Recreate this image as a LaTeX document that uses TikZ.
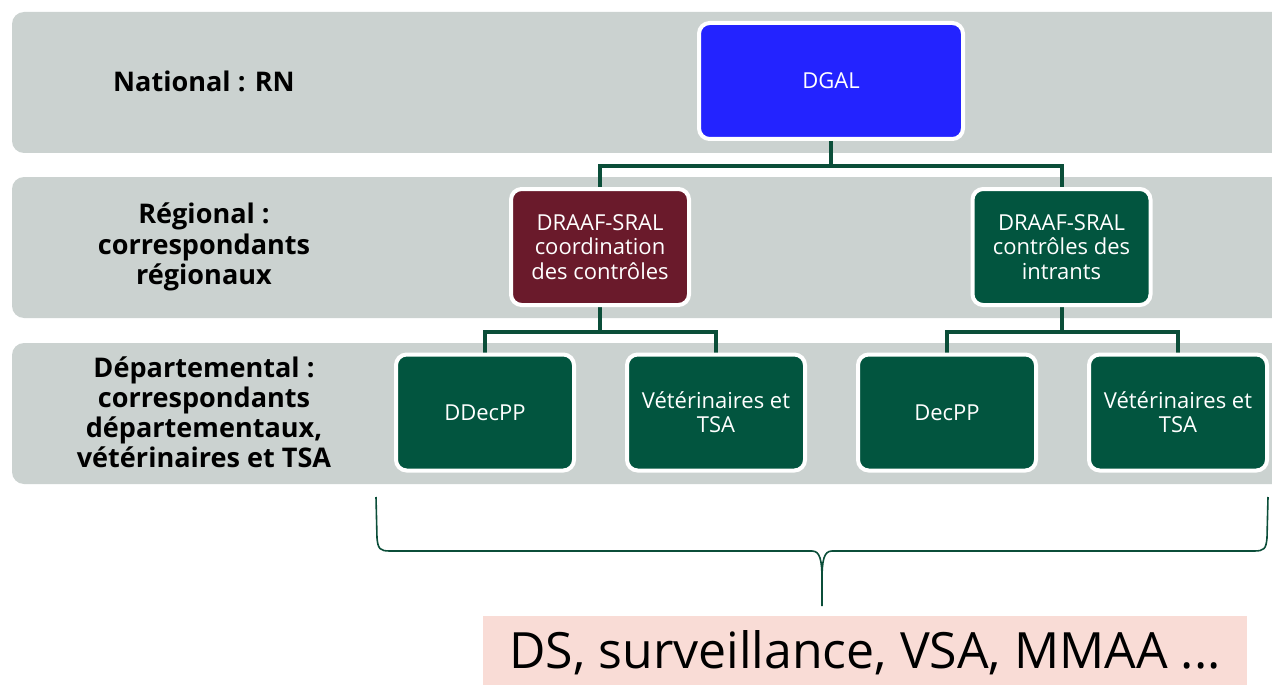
\documentclass[tikz,border=0pt]{standalone}
\usepackage{fontspec}
\setmainfont{Open Sans}
\usetikzlibrary{backgrounds}
\definecolor{band}{HTML}{CBD2D0}
\definecolor{dgalblue}{HTML}{2323FF}
\definecolor{maroon}{HTML}{6A1A2B}
\definecolor{dgreen}{HTML}{02553F}
\definecolor{conn}{HTML}{0B4E39}
\definecolor{pink}{HTML}{F9DCD6}
\tikzset{
  bandbox/.style={fill=band, rounded corners=9pt},
  orgbox/.style={draw=white, line width=3pt, rounded corners=8pt, text=white, align=center,
    font=\fontsize{16.5}{18.2}\selectfont, inner sep=0pt, minimum width=133.5pt, minimum height=87pt},
  lvl/.style={font=\fontsize{20.3}{22.6}\selectfont\bfseries, align=center, text=black},
  connline/.style={draw=conn, line width=3pt},
  braceline/.style={draw=conn, line width=1.2pt},
}
\begin{document}
\begin{tikzpicture}[x=0.75pt,y=-0.75pt]
\useasboundingbox (0,0) rectangle (1272,685);
% nodes
\node[orgbox, fill=dgalblue, minimum width=198pt] (dgal) at (831,81) {DGAL};
\node[orgbox, fill=maroon] (coord) at (600,247) {DRAAF-SRAL\\coordination\\des contrôles};
\node[orgbox, fill=dgreen] (intr) at (1061.5,247) {DRAAF-SRAL\\contrôles des\\intrants};
\node[orgbox, fill=dgreen] (ddec) at (485,412.5) {DDecPP};
\node[orgbox, fill=dgreen] (vet1) at (716,412.5) {Vétérinaires et\\TSA};
\node[orgbox, fill=dgreen] (dec) at (947,412.5) {DecPP};
\node[orgbox, fill=dgreen] (vet2) at (1178,412.5) {Vétérinaires et\\TSA};
% level labels
\node[lvl] (lnat) at (204,81) {National : RN};
\node[lvl] (lreg) at (204,247) {Régional :\\correspondants\\régionaux};
\node[lvl] (ldep) at (204,412) {Départemental :\\correspondants\\départementaux,\\vétérinaires et TSA};
% bottom box
\node[fill=pink, minimum width=573pt, minimum height=56pt, inner sep=0pt,
  font=\fontsize{37.5}{40}\selectfont] (ds) at (865,653) {DS, surveillance, VSA, MMAA ...};
\begin{scope}[on background layer]
  \fill[bandbox] (12,12) rectangle (1290,153);
  \fill[bandbox] (12,177) rectangle (1290,318);
  \fill[bandbox] (12,343) rectangle (1290,484);
  \coordinate (j1) at (831,166);
  \coordinate (j2) at (600,332);
  \coordinate (j3) at (1061.5,332);
  \draw[connline] (dgal.south) -- (j1);
  \draw[connline] (j1) -| (coord.north);
  \draw[connline] (j1) -| (intr.north);
  \draw[connline] (coord.south) -- (j2);
  \draw[connline] (j2) -| (ddec.north);
  \draw[connline] (j2) -| (vet1.north);
  \draw[connline] (intr.south) -- (j3);
  \draw[connline] (j3) -| (dec.north);
  \draw[connline] (j3) -| (vet2.north);
\end{scope}
% brace
\coordinate (bl) at (376,497);
\coordinate (br) at (1268,497);
\coordinate (bt) at (822,606);
\draw[braceline] (bl) -- (377,538) .. controls (378,549) and (380,551) .. (390,551)
  -- (812,551) .. controls (820,551) and (822,560) .. (822,580) -- (bt);
\draw[braceline] (br) -- (1267,538) .. controls (1266,549) and (1264,551) .. (1254,551)
  -- (832,551) .. controls (824,551) and (822,560) .. (822,580);
\end{tikzpicture}
\end{document}
